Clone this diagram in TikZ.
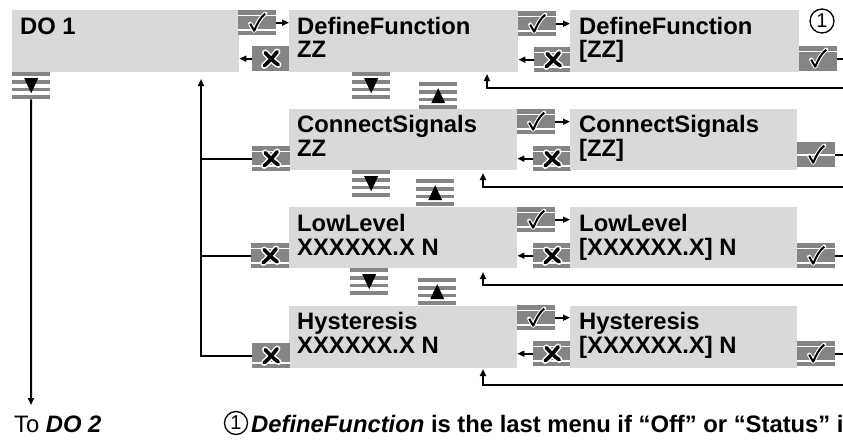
\documentclass[tikz,border=0pt]{standalone}
\usepackage{fontspec}
\setmainfont{Liberation Sans}
\usetikzlibrary{arrows.meta,calc}
\definecolor{boxgray}{gray}{0.85}
\definecolor{btngray}{gray}{0.52}
\newcommand\mbStripe[1]{\fill[white] ($(path picture bounding box.north west)+(-1,#1)$) rectangle ++(42,1.6);}
\newcommand\mbTwo{\mbStripe{4.3}\mbStripe{19}}
\newcommand\mbTop{\mbStripe{4.3}}
\newcommand\mbMid{\mbStripe{11.7}}
\newcommand\mbBot{\mbStripe{19}}
\newcommand\mbChk{\begin{scope}[shift={(path picture bounding box.center)}]
  \draw[white,line width=4.2pt,line join=round,line cap=round] (-7,1) -- (-3,8) .. controls (0,1) and (3,-5) .. (8,-9);
  \draw[black,line width=2pt,line join=round] (-7,1) -- (-3,8) .. controls (0,1) and (3,-5) .. (8,-9);
  \end{scope}}
\newcommand\mbX{\begin{scope}[shift={(path picture bounding box.center)}]
  \draw[white,line width=6.5pt,line cap=round] (-6,-6) .. controls (-1,-1) and (2,3) .. (7,6);
  \draw[white,line width=6.5pt,line cap=round] (6,-7) .. controls (2,-2) and (-2,3) .. (-7,7);
  \draw[black,line width=3.6pt,line cap=round] (-6,-6) .. controls (-1,-1) and (2,3) .. (7,6);
  \draw[black,line width=3.6pt,line cap=round] (6,-7) .. controls (2,-2) and (-2,3) .. (-7,7);
  \end{scope}}
\newcommand\mbBars{%
  \fill[btngray] (path picture bounding box.north west) rectangle ++(38,4);
  \fill[btngray] ($(path picture bounding box.north west)+(0,7.8)$) rectangle ++(38,3.7);
  \fill[btngray] ($(path picture bounding box.north west)+(0,15.4)$) rectangle ++(38,3.7);
  \fill[btngray] ($(path picture bounding box.north west)+(0,23)$) rectangle ++(38,4);}
\newcommand\mbDown{\fill[black] ($(path picture bounding box.north west)+(12,6)$) -- ++(14,0) -- ++(-7,15) -- cycle;}
\newcommand\mbUp{\fill[black] ($(path picture bounding box.north west)+(12,21)$) -- ++(14,0) -- ++(-7,-15) -- cycle;}
\tikzset{
  box/.style={fill=boxgray, draw=none, inner sep=0pt, anchor=north west},
  btn/.style={fill=btngray, inner sep=0pt, minimum width=38pt, minimum height=25pt, anchor=north west, path picture={#1}},
  nav/.style={fill=white, inner sep=0pt, minimum width=38pt, minimum height=27pt, anchor=north west, path picture={\mbBars #1}},
  lbl/.style={font=\bfseries\fontsize{23.8}{24}\selectfont, inner sep=0pt, anchor=base west},
  arr/.style={-{Triangle[length=7pt,width=6pt]}, line width=1.6pt},
  con/.style={line width=2pt},
  ret/.style={-{Triangle[length=7pt,width=6pt]}, line width=2pt},
  num/.style={circle, draw, line width=1.3pt, minimum size=24pt, inner sep=0pt, font=\fontsize{20}{20}\selectfont},
}
\begin{document}
\begin{tikzpicture}[x=1pt,y=-1pt]
\useasboundingbox (0,0) rectangle (843,439);
\coordinate (edge) at (850,0);
% ---- Row 1
\node[box, minimum width=227pt, minimum height=62pt] (do1) at (12,10) {};
\node[lbl] (do1t) at (20,34) {DO 1};
\node[btn={\mbTwo\mbChk}] (b0c) at (238,10) {};
\node[btn={\mbX}] (b0x) at (252,46) {};
\node[box, minimum width=229pt, minimum height=62pt] (df1) at (289,10) {};
\node[lbl] (df1a) at (297,34) {DefineFunction};
\node[lbl] (df1b) at (297,57.5) {ZZ};
\node[btn={\mbTwo\mbChk}] (b1c) at (518,11) {};
\node[btn={\mbTwo\mbX}] (b1x) at (534,47) {};
\node[box, minimum width=229pt, minimum height=62pt] (df2) at (570,10) {};
\node[lbl] (df2a) at (579,34) {DefineFunction};
\node[lbl] (df2b) at (579,57.5) {[ZZ]};
\node[num] (n1) at (822,21) {1};
\node[btn={\mbTop\mbChk}] (b2c) at (799,46) {};
\node[nav={\mbDown}] (nd0) at (12,72) {};
\node[nav={\mbDown}] (nd1) at (352,72) {};
\node[nav={\mbUp}] (nu1) at (419,82) {};
\coordinate (r1) at (850,88);
\coordinate (t1) at (487,74);
% ---- Row 2
\node[box, minimum width=228pt, minimum height=61pt] (cs1) at (289,109) {};
\node[lbl] (cs1a) at (297,132.5) {ConnectSignals};
\node[lbl] (cs1b) at (297,156) {ZZ};
\node[btn={\mbTwo\mbX}] (b2lx) at (252,146) {};
\node[btn={\mbTwo\mbChk}] (b3c) at (517,109) {};
\node[btn={\mbTwo\mbX}] (b3x) at (533,146) {};
\node[box, minimum width=227pt, minimum height=61pt] (cs2) at (570,109) {};
\node[lbl] (cs2a) at (579,132.5) {ConnectSignals};
\node[lbl] (cs2b) at (579,156) {[ZZ]};
\node[btn={\mbMid\mbChk}] (b4c) at (797,142) {};
\node[nav={\mbDown}] (nd2) at (352,170) {};
\node[nav={\mbUp}] (nu2) at (416,179) {};
\coordinate (r2) at (850,187);
\coordinate (t2) at (483,173);
% ---- Row 3
\node[box, minimum width=228pt, minimum height=61pt] (ll1) at (289,207) {};
\node[lbl] (ll1a) at (297,231) {LowLevel};
\node[lbl] (ll1b) at (297,255) {XXXXXX.X N};
\node[btn={\mbTwo\mbX}] (b3lx) at (251,243) {};
\node[btn={\mbTwo\mbChk}] (b5c) at (517,207) {};
\node[btn={\mbTwo\mbX}] (b5x) at (533,243) {};
\node[box, minimum width=227pt, minimum height=61pt] (ll2) at (570,207) {};
\node[lbl] (ll2a) at (579,231) {LowLevel};
\node[lbl] (ll2b) at (579,255) {[XXXXXX.X] N};
\node[btn={\mbTwo\mbChk}] (b6c) at (797,243) {};
\node[nav={\mbDown}] (nd3) at (350,268) {};
\node[nav={\mbUp}] (nu3) at (418,278) {};
\coordinate (r3) at (850,285);
\coordinate (t3) at (483,272);
% ---- Row 4
\node[box, minimum width=228pt, minimum height=62pt] (hy1) at (289,306) {};
\node[lbl] (hy1a) at (297,329) {Hysteresis};
\node[lbl] (hy1b) at (297,353) {XXXXXX.X N};
\node[btn={\mbBot\mbX}] (b4lx) at (252,343) {};
\node[btn={\mbTwo\mbChk}] (b7c) at (517,305) {};
\node[btn={\mbTwo\mbX}] (b7x) at (533,341) {};
\node[box, minimum width=227pt, minimum height=62pt] (hy2) at (570,306) {};
\node[lbl] (hy2a) at (579,329) {Hysteresis};
\node[lbl] (hy2b) at (579,353) {[XXXXXX.X] N};
\node[btn={\mbTwo\mbChk}] (b8c) at (797,341) {};
\coordinate (r4) at (850,385);
\coordinate (t4) at (483,369);
% ---- left side
\coordinate (lv) at (201,79);
\coordinate (dd) at (31,405);
\node[font=\fontsize{23.8}{24}\selectfont, inner sep=0pt, anchor=base west] (todo2) at (14,432) {To \textbf{\textit{DO 2}}};
\node[num, minimum size=23pt] (n1f) at (236,423) {1};
\node[lbl] (fn) at (251,432) {\textit{DefineFunction} is the last menu if ``Off'' or ``Status'' i};
% ---- connectors
\draw[arr] (b0c.east) -- (b0c.east -| df1.west);
\draw[arr] (b0x.west) -- (b0x.west -| do1.east);
\draw[arr] (b1c.east) -- (b1c.east -| df2.west);
\draw[arr] (b1x.west) -- (b1x.west -| df1.east);
\draw[con] (b2c.east) -- (b2c.east -| edge);
\draw[ret] (r1) -| (t1);
\draw[arr] (b3c.east) -- (b3c.east -| cs2.west);
\draw[arr] (b3x.west) -- (b3x.west -| cs1.east);
\draw[con] (b4c.east) -- (b4c.east -| edge);
\draw[ret] (r2) -| (t2);
\draw[arr] (b5c.east) -- (b5c.east -| ll2.west);
\draw[arr] (b5x.west) -- (b5x.west -| ll1.east);
\draw[con] (b6c.east) -- (b6c.east -| edge);
\draw[ret] (r3) -| (t3);
\draw[arr] (b7c.east) -- (b7c.east -| hy2.west);
\draw[arr] (b7x.west) -- (b7x.west -| hy1.east);
\draw[con] (b8c.east) -- (b8c.east -| edge);
\draw[ret] (r4) -| (t4);
\draw[ret] (b4lx.west) -| (lv);
\draw[con] (b2lx.west) -- (b2lx.west -| lv);
\draw[con] (b3lx.west) -- (b3lx.west -| lv);
\draw[ret] (nd0.south) -- (dd);
\end{tikzpicture}
\end{document}
